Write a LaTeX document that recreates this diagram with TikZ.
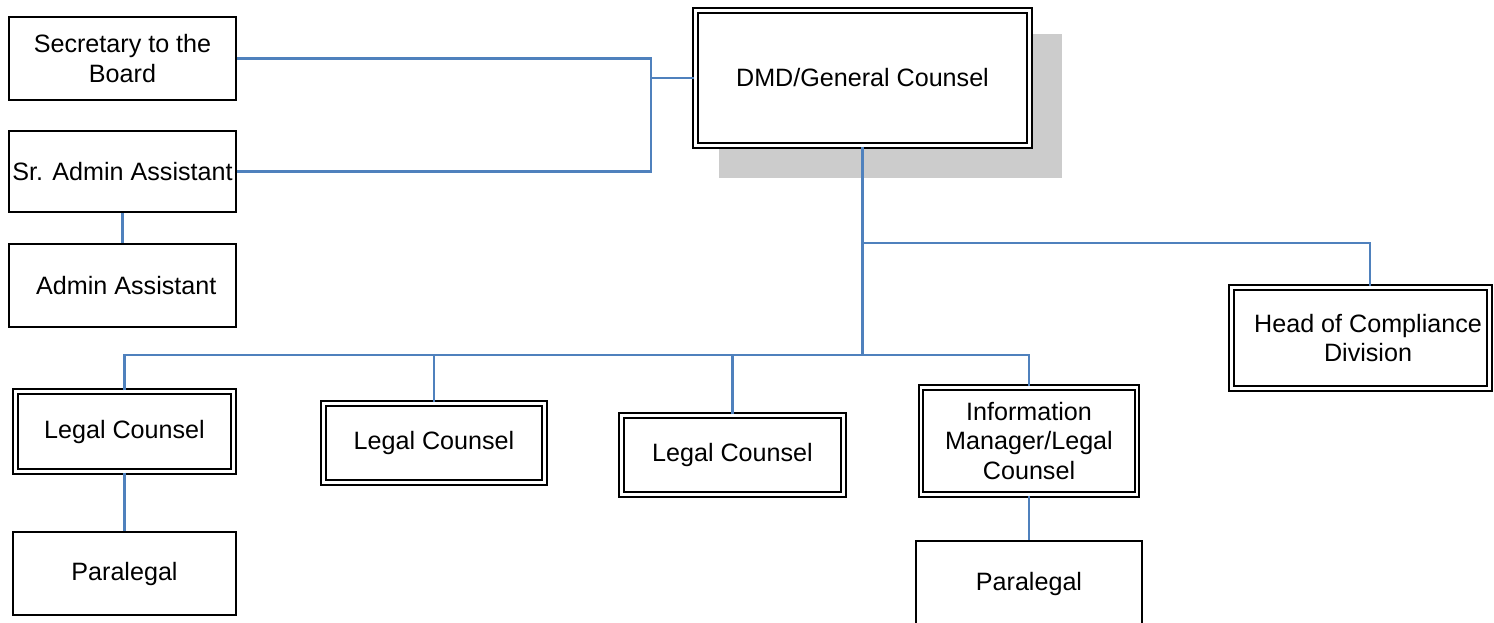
\documentclass[tikz,border=0pt]{standalone}
\usepackage{fontspec}
\setmainfont{Liberation Sans}
\usetikzlibrary{positioning}
\definecolor{linkblue}{HTML}{4F81BD}
\tikzset{
      staffbox/.style={
        draw=black,
        line width=1.1pt,
        fill=white,
        align=center,
        inner sep=0pt,
        font=\fontsize{14.3}{17}\selectfont
      },
      counselbox/.style={
        staffbox,
        line width=1.3pt,
        double=white,
        double distance=1.3pt
      },
      link/.style={
        draw=linkblue,
        line width=1.2pt
      }
    }
\begin{document}
\begin{tikzpicture}[x=0.02cm,y=-0.02cm]
    \useasboundingbox (0,0) rectangle (1494,622);
    % shadow behind the head box
    \fill[black!20] (719,34) rectangle (1062,178);
    \node[counselbox, minimum width=6.68cm, minimum height=2.7cm] (dmd) at (862.5,78) {DMD/General Counsel};
    \node[staffbox, minimum width=4.54cm, minimum height=1.66cm] (sec) at (122.5,58.5) {Secretary to the\\Board};
    \node[staffbox, minimum width=4.54cm, minimum height=1.62cm] (sradmin) at (122.5,171.5) {Sr. Admin Assistant};
    \node[staffbox, minimum width=4.54cm, minimum height=1.66cm] (admin) at (122.5,285.5) {\hspace{0.3em}Admin Assistant};
    \node[counselbox, minimum width=5.16cm, minimum height=2.02cm] (head) at (1360.5,338) {\hspace{0.6em}Head of Compliance\\\hspace{0.6em}Division};
    \node[counselbox, minimum width=4.36cm, minimum height=1.6cm] (legal1) at (124.5,431.5) {Legal Counsel};
    \node[counselbox, minimum width=4.42cm, minimum height=1.58cm] (legal2) at (434,443) {Legal Counsel};
    \node[counselbox, minimum width=4.44cm, minimum height=1.58cm] (legal3) at (732.5,455) {Legal Counsel};
    \node[counselbox, minimum width=4.32cm, minimum height=2.14cm] (info) at (1029,441) {Information\\Manager/Legal\\Counsel};
    \node[staffbox, minimum width=4.52cm, minimum height=1.72cm] (para2) at (1029,584) {Paralegal};
    \node[staffbox, minimum width=4.46cm, minimum height=1.66cm] (para1) at (124.5,573.5) {Paralegal};
    \coordinate (jleft) at (651,78);
    \coordinate (jhead) at (862.5,243);
    \coordinate (jcomp) at (1370,243);
    \coordinate (jbus) at (862.5,355);
    \draw[link] (sec.east) -| (jleft) -- (dmd.west);
    \draw[link] (sradmin.east) -| (jleft);
    \draw[link] (sradmin.south) -- (admin.north);
    \draw[link] (dmd.south) -- (jbus);
    \draw[link] (jhead) -- (jcomp) -- (jcomp |- head.north);
    \draw[link] (legal1.north) |- (jbus) -| (info.north);
    \draw[link] (legal2.north) |- (jbus);
    \draw[link] (legal3.north) |- (jbus);
    \draw[link] (legal1.south) -- (para1.north);
    \draw[link] (info.south) -- (para2.north);
    \end{tikzpicture}
\end{document}
